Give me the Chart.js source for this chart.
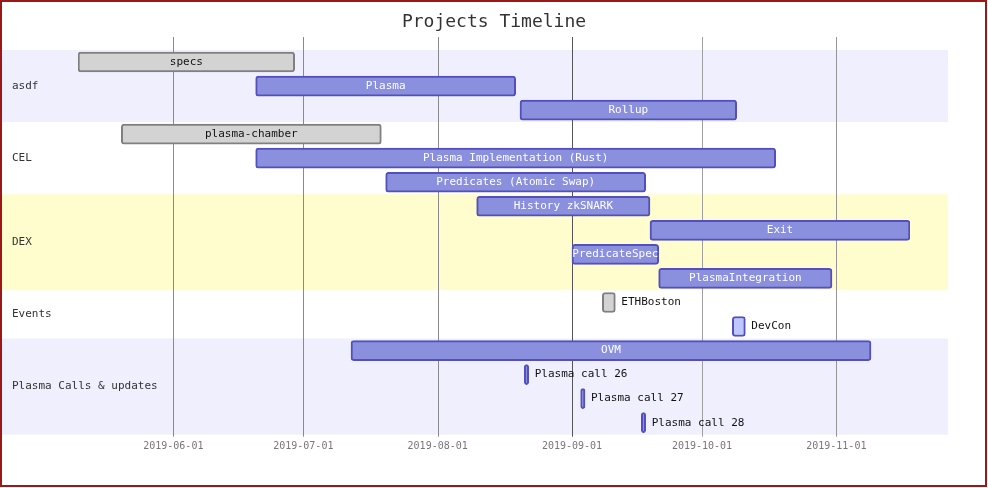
<!DOCTYPE html>
<html>
<head>
<meta charset="utf-8">
<script src="https://cdn.jsdelivr.net/npm/chart.js@4/dist/chart.umd.min.js"></script>
<style>
  html, body { margin: 0; padding: 0; background: #fff; }
  #wrap { position: relative; width: 988px; height: 488px; }
</style>
</head>
<body>
<div id="wrap"><canvas id="c"></canvas></div>
<script>
// ---- data ----
const taskNames = ['specs', 'Plasma', 'Rollup', 'plasma-chamber', 'Plasma Implementation (Rust)',
  'Predicates (Atomic Swap)', 'History zkSNARK', 'Exit', 'PredicateSpec', 'PlasmaIntegration',
  'ETHBoston', 'DevCon', 'OVM', 'Plasma call 26', 'Plasma call 27', 'Plasma call 28'];
const taskStart = ['2019-05-10', '2019-06-20', '2019-08-20', '2019-05-20', '2019-06-20',
  '2019-07-20', '2019-08-10', '2019-09-19', '2019-09-01', '2019-09-21',
  '2019-09-08', '2019-10-08', '2019-07-12', '2019-08-21', '2019-09-03', '2019-09-17'];
const taskEnd = ['2019-06-29', '2019-08-19', '2019-10-09', '2019-07-19', '2019-10-18',
  '2019-09-18', '2019-09-19', '2019-11-18', '2019-09-21', '2019-10-31',
  '2019-09-11', '2019-10-11', '2019-11-09', '2019-08-22', '2019-09-04', '2019-09-18'];
const taskStatus = ['done', '', '', 'done', '', '', '', '', '', '', 'done', 'active', '', '', '', ''];
const taskSection = [0, 0, 0, 1, 1, 1, 2, 2, 2, 2, 3, 3, 4, 4, 4, 4];
const sectionNames = ['asdf', 'CEL', 'DEX', 'Events', 'Plasma Calls & updates'];
const tickLabels = ['2019-06-01', '2019-07-01', '2019-08-01', '2019-09-01', '2019-10-01', '2019-11-01'];

// ---- helpers ----
const toDay = s => { const p = s.split('-').map(Number); return Date.UTC(p[0], p[1] - 1, p[2]) / 86400000; };
const startDays = taskStart.map(toDay);
const endDays = taskEnd.map(toDay);
const bars = taskNames.map((n, i) => [startDays[i], endDays[i]]);

const MONO = '"DejaVu Sans Mono", "Liberation Mono", monospace';
const sectionBg = ['#efeffd', '#ffffff', '#fffdcd', '#ffffff', '#efeffd'];
const fillFor = s => s === 'done' ? '#d3d3d3' : (s === 'active' ? '#bfc7ff' : '#8a90dd');
const strokeFor = s => s === 'done' ? '#808080' : '#534fbc';
const gridColors = ['#8a8a8a', '#8a8a8a', '#8a8a8a', '#555555', '#a0a0a0', '#959595'];

const ganttPlugin = {
  id: 'gantt',
  beforeDraw(chart) {
    const ctx = chart.ctx;
    ctx.save();
    ctx.fillStyle = '#ffffff';
    ctx.fillRect(0, 0, chart.width, chart.height);
    ctx.restore();
  },
  beforeDatasetsDraw(chart) {
    const ctx = chart.ctx;
    const ys = chart.scales.y;
    const xs = chart.scales.x;
    const rowH = ys.getPixelForValue(1) - ys.getPixelForValue(0);
    ctx.save();
    // section backgrounds
    sectionNames.forEach((name, s) => {
      const idx = taskSection.map((v, i) => v === s ? i : -1).filter(i => i >= 0);
      const top = ys.getPixelForValue(idx[0]) - rowH / 2;
      const bottom = ys.getPixelForValue(idx[idx.length - 1]) + rowH / 2;
      ctx.fillStyle = sectionBg[s];
      ctx.fillRect(2, top, 946, bottom - top);
      ctx.fillStyle = '#333333';
      ctx.font = '11px ' + MONO;
      ctx.textAlign = 'left';
      ctx.textBaseline = 'middle';
      ctx.fillText(name, 12, (top + bottom) / 2);
    });
    // vertical grid lines
    const area = chart.chartArea;
    xs.ticks.forEach((t, i) => {
      const px = Math.round(xs.getPixelForValue(t.value)) + 0.5;
      ctx.strokeStyle = gridColors[i] || '#8a8a8a';
      ctx.lineWidth = 1;
      ctx.beginPath();
      ctx.moveTo(px, area.top - 13);
      ctx.lineTo(px, area.bottom + 2);
      ctx.stroke();
    });
    ctx.restore();
  },
  afterDatasetsDraw(chart) {
    const ctx = chart.ctx;
    const meta = chart.getDatasetMeta(0);
    ctx.save();
    ctx.font = '11px ' + MONO;
    ctx.textBaseline = 'middle';
    meta.data.forEach((bar, i) => {
      const p = bar.getProps(['x', 'base', 'y'], true);
      const left = Math.min(p.x, p.base), right = Math.max(p.x, p.base);
      const text = taskNames[i];
      const w = ctx.measureText(text).width;
      if (w <= right - left + 1) {
        ctx.textAlign = 'center';
        ctx.fillStyle = taskStatus[i] === 'done' ? '#111111' : '#ffffff';
        ctx.fillText(text, (left + right) / 2, p.y);
      } else {
        ctx.textAlign = 'left';
        ctx.fillStyle = '#111111';
        ctx.fillText(text, right + 6, p.y);
      }
    });
    ctx.restore();
  },
  afterDraw(chart) {
    const ctx = chart.ctx;
    ctx.save();
    ctx.strokeStyle = '#9e1616';
    ctx.lineWidth = 2;
    ctx.strokeRect(1, 1, 985, 485);
    ctx.restore();
  }
};

new Chart(document.getElementById('c'), {
  type: 'bar',
  data: {
    labels: taskNames,
    datasets: [{
      data: bars,
      backgroundColor: taskStatus.map(fillFor),
      borderColor: taskStatus.map(strokeFor),
      borderWidth: 2,
      borderRadius: 3,
      borderSkipped: false,
      barThickness: 20
    }]
  },
  options: {
    indexAxis: 'y',
    responsive: true,
    maintainAspectRatio: false,
    animation: false,
    layout: { padding: { left: 78, right: 78, top: 0, bottom: 29.3 } },
    plugins: {
      legend: { display: false },
      tooltip: { enabled: false },
      title: {
        display: true,
        text: 'Projects Timeline',
        color: '#333333',
        font: { family: MONO, size: 18, weight: 'normal' },
        padding: { top: 12, bottom: 16.4 }
      }
    },
    scales: {
      x: {
        type: 'linear',
        min: Math.min(...startDays),
        max: Math.max(...endDays),
        afterBuildTicks(scale) {
          scale.ticks = tickLabels.map(t => ({ value: toDay(t) }));
        },
        grid: { display: false, drawTicks: false },
        border: { display: false },
        ticks: {
          autoSkip: false,
          maxRotation: 0,
          padding: 6,
          color: '#777777',
          font: { family: MONO, size: 10 },
          callback: (v, i) => tickLabels[i]
        }
      },
      y: {
        type: 'category',
        display: false
      }
    }
  },
  plugins: [ganttPlugin]
});
</script>
</body>
</html>
